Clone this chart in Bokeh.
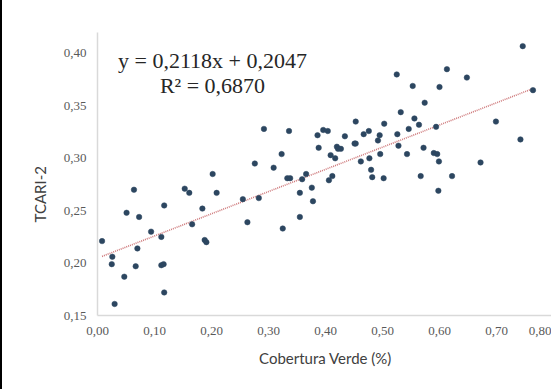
from bokeh.embed import file_html
from bokeh.models import CustomJSTickFormatter, FixedTicker, Label, Range1d, Title
from bokeh.plotting import figure
from bokeh.resources import INLINE

# Green cover (fraction) vs TCARI-2 index
cobertura = [
    0.008, 0.026, 0.025, 0.030, 0.047, 0.051, 0.064, 0.067, 0.070, 0.073,
    0.094, 0.112, 0.112, 0.116, 0.117, 0.117, 0.153, 0.161, 0.166, 0.184,
    0.188, 0.191, 0.202, 0.209, 0.255, 0.263, 0.283, 0.276, 0.292, 0.309,
    0.323, 0.325, 0.333, 0.338, 0.336, 0.355, 0.355, 0.359, 0.366, 0.376,
    0.378, 0.386, 0.388, 0.396, 0.404, 0.406, 0.409, 0.412, 0.417, 0.420,
    0.422, 0.427, 0.434, 0.451, 0.453, 0.453, 0.462, 0.467, 0.476, 0.477,
    0.480, 0.482, 0.492, 0.495, 0.496, 0.502, 0.503, 0.525, 0.526, 0.528,
    0.532, 0.543, 0.546, 0.553, 0.556, 0.564, 0.567, 0.572, 0.574, 0.590,
    0.594, 0.596, 0.599, 0.598, 0.600, 0.613, 0.622, 0.648, 0.672, 0.699,
    0.742, 0.746, 0.764,
]
tcari2 = [
    0.221, 0.206, 0.199, 0.161, 0.187, 0.248, 0.270, 0.197, 0.214, 0.244,
    0.230, 0.225, 0.198, 0.199, 0.255, 0.172, 0.271, 0.267, 0.237, 0.252,
    0.222, 0.220, 0.285, 0.267, 0.261, 0.239, 0.262, 0.295, 0.328, 0.291,
    0.304, 0.233, 0.281, 0.281, 0.326, 0.267, 0.244, 0.280, 0.285, 0.272,
    0.259, 0.322, 0.310, 0.327, 0.326, 0.279, 0.303, 0.283, 0.300, 0.311,
    0.309, 0.309, 0.321, 0.314, 0.314, 0.335, 0.297, 0.323, 0.326, 0.300,
    0.289, 0.282, 0.317, 0.322, 0.304, 0.281, 0.333, 0.380, 0.323, 0.312,
    0.344, 0.304, 0.328, 0.369, 0.338, 0.332, 0.283, 0.310, 0.353, 0.305,
    0.330, 0.304, 0.297, 0.269, 0.368, 0.385, 0.283, 0.377, 0.296, 0.335,
    0.318, 0.407, 0.365,
]

# Linear trend: y = a*x + b
slope = 0.2118
intercept = 0.2047
r2 = 0.6870

x_ticks = [0.0, 0.1, 0.2, 0.3, 0.4, 0.5, 0.6, 0.7, 0.8]
y_ticks = [0.15, 0.20, 0.25, 0.30, 0.35, 0.40]

p = figure(
    width=551, height=389,
    x_range=Range1d(0.0, 0.8), y_range=Range1d(0.15, 0.42),
    output_backend="svg", toolbar_location=None,
    min_border_left=95, min_border_right=0,
    min_border_top=32, min_border_bottom=74,
    styles={"border-left": "2px solid black"},
)
p.outline_line_color = None
p.xgrid.visible = False
p.ygrid.visible = False
p.background_fill_color = "white"
p.border_fill_color = "white"

comma_fmt = CustomJSTickFormatter(code="return tick.toFixed(2).replace('.', ',');")

for ax, ticks in ((p.xaxis[0], x_ticks), (p.yaxis[0], y_ticks)):
    ax.ticker = FixedTicker(ticks=ticks)
    ax.formatter = comma_fmt
    ax.axis_line_color = "#d9d9d9"
    ax.axis_line_width = 1.5
    ax.major_tick_line_color = None
    ax.minor_tick_line_color = None
    ax.major_tick_in = 0
    ax.major_tick_out = 0
    ax.major_label_text_font = "Liberation Serif"
    ax.major_label_text_font_size = "13px"
    ax.major_label_text_color = "#595959"

p.xaxis.major_label_standoff = 11
p.yaxis.major_label_standoff = 11

p.xaxis.axis_label = "Cobertura Verde (%)"
p.xaxis.axis_label_text_font = "Lato"
p.xaxis.axis_label_text_font_style = "normal"
p.xaxis.axis_label_text_font_size = "15px"
p.xaxis.axis_label_text_color = "#404040"
p.xaxis.axis_label_standoff = 11

# Y-axis title, set a little below the middle of the axis
p.add_layout(Title(
    text="TCARI-2", align="left", offset=93, standoff=23,
    text_font="Lato", text_font_style="normal", text_font_size="15px",
    text_color="#404040",
), "left")

# Trend line over the observed range
x0, x1 = min(cobertura), max(cobertura)
p.line([x0, x1], [slope * x0 + intercept, slope * x1 + intercept],
       line_color="#c9696b", line_width=1.6, line_dash="1 1", line_alpha=0.9)

p.scatter(cobertura, tcari2, size=5.5, fill_color="#2c4660",
          line_color="#2c4660", line_width=0.5)

eq1 = "y = " + f"{slope:.4f}".replace(".", ",") + "x + " + f"{intercept:.4f}".replace(".", ",")
eq2 = "R² = " + f"{r2:.4f}".replace(".", ",")
p.add_layout(Label(
    x=0.2018, y=0.3933, text=eq1, text_align="center", text_baseline="middle",
    text_font="Liberation Serif", text_font_size="22px", text_color="#262626",
))
p.add_layout(Label(
    x=0.2018, y=0.3695, text=eq2, text_align="center", text_baseline="middle",
    text_font="Liberation Serif", text_font_size="22px", text_color="#262626",
))

open("out.html", "w").write(file_html(p, INLINE))
